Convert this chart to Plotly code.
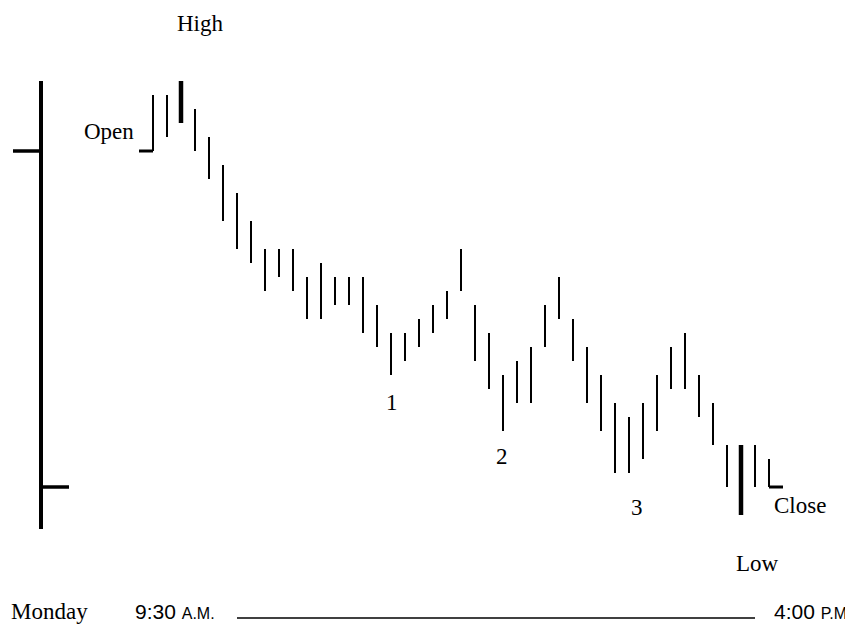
import plotly.graph_objects as go

# each bar's high / low, counted in ticks below the day's high
bar_high = [1, 1, 0, 2, 4, 6, 8, 10, 12, 12,
            12, 14, 13, 14, 14, 14, 16, 18, 18, 17,
            16, 15, 12, 16, 18, 21, 20, 19, 16, 14,
            17, 19, 21, 23, 24, 23, 21, 19, 18, 21,
            23, 26, 26, 26, 27]
bar_low = [5, 4, 3, 5, 7, 10, 12, 13, 15, 14,
           15, 17, 17, 16, 16, 18, 19, 21, 20, 19,
           18, 17, 15, 20, 22, 25, 23, 23, 19, 17,
           20, 23, 25, 28, 28, 27, 25, 22, 22, 24,
           26, 29, 31, 29, 29]
thick_bars = [2, 42]          # day's high bar and day's low bar
open_level = 5
close_level = 29

# the whole day drawn as one bar on the left
day_x = -8
day_high = 0
day_low = 32

serif = "Liberation Serif"
sans = "Liberation Sans"

# page body has an 8px margin, so the figure is shrunk to fit the window
W, H = 845, 618


def px(x):
    return (x - 8) / W


def py(y):
    return 1 - (y - 8) / H


def segs(xs, y0s, y1s):
    x, y = [], []
    for a, b, c in zip(xs, y0s, y1s):
        x += [a, a, None]
        y += [b, c, None]
    return x, y


thin = [i for i in range(len(bar_high)) if i not in thick_bars]
tx, ty = segs(thin, [bar_high[i] for i in thin], [bar_low[i] for i in thin])
kx, ky = segs(thick_bars, [bar_high[i] for i in thick_bars],
              [bar_low[i] for i in thick_bars])

fig = go.Figure()
fig.add_trace(go.Scatter(x=tx, y=ty, mode="lines",
                         line=dict(color="black", width=2)))
fig.add_trace(go.Scatter(x=kx, y=ky, mode="lines",
                         line=dict(color="black", width=4.5)))

# open / close ticks on the first and last bar
last = len(bar_high) - 1
fig.add_trace(go.Scatter(x=[-1, 0, None, last, last + 1],
                         y=[open_level, open_level, None, close_level, close_level],
                         mode="lines", line=dict(color="black", width=3)))

# daily bar
fig.add_trace(go.Scatter(x=[day_x, day_x], y=[day_high, day_low], mode="lines",
                         line=dict(color="black", width=4)))
fig.add_trace(go.Scatter(x=[day_x - 2, day_x, None, day_x, day_x + 2],
                         y=[open_level, open_level, None, close_level, close_level],
                         mode="lines", line=dict(color="black", width=3.5)))

labels = [
    ("High", 3.36, -4.14, "center"),
    ("Open", -1.2, 3.64, "right"),
    ("1", 17.07, 22.93, "center"),
    ("2", 24.93, 26.8, "center"),
    ("3", 34.57, 30.43, "center"),
    ("Close", 46.2, 30.29, "center"),
    ("Low", 43.2, 34.43, "center"),
]
for t, x, y, xa in labels:
    fig.add_annotation(x=x, y=y, text=t, showarrow=False, xanchor=xa,
                       yanchor="middle",
                       font=dict(family=serif, size=23, color="black"))

# time line at the bottom
fig.add_annotation(x=px(9), y=py(611), xref="paper", yref="paper",
                   text="Monday", showarrow=False, xanchor="left", yanchor="middle",
                   font=dict(family=serif, size=23, color="black"))
fig.add_annotation(x=px(133), y=py(611), xref="paper", yref="paper",
                   text="9:30 <span style='font-size:16px'>A.M.</span>",
                   showarrow=False, xanchor="left", yanchor="middle",
                   font=dict(family=sans, size=21, color="black"))
fig.add_annotation(x=px(854), y=py(611), xref="paper", yref="paper",
                   text="4:00 <span style='font-size:16px'>P.M.</span>",
                   showarrow=False, xanchor="right", yanchor="middle",
                   font=dict(family=sans, size=21, color="black"))
fig.add_shape(type="line", xref="paper", yref="paper",
              x0=px(237), x1=px(755), y0=py(618), y1=py(618),
              line=dict(color="black", width=1.5))

fig.update_layout(
    width=W, height=H,
    margin=dict(l=0, r=0, t=0, b=0),
    paper_bgcolor="white", plot_bgcolor="white",
    showlegend=False,
    xaxis=dict(range=[(8 - 153) / 14, (8 + W - 153) / 14], visible=False),
    yaxis=dict(range=[(8 + H - 81) / 14, (8 - 81) / 14], visible=False),
)

fig.write_html("out.html")
